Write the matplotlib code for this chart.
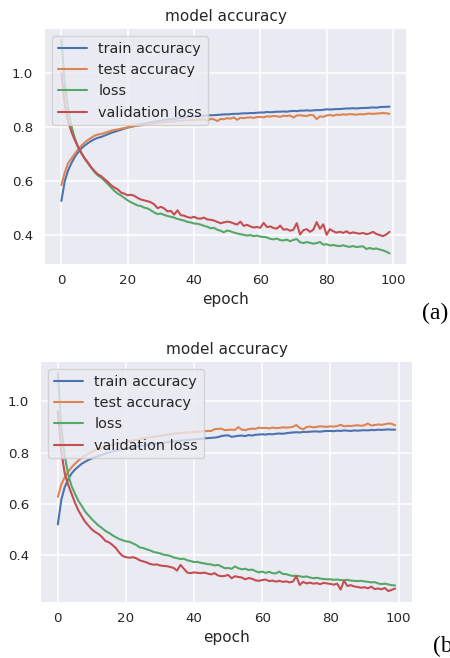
import matplotlib
matplotlib.use("Agg")
import matplotlib.pyplot as plt

# training history, run (a)
epochs = list(range(100))

train_acc_a = [
    .525, .598, .638, .665, .688, .705, .720, .731, .740, .748,
    .755, .760, .763, .768, .773, .778, .782, .786, .790, .794,
    .798, .801, .804, .807, .810, .813, .815, .818, .820, .822,
    .824, .826, .828, .829, .831, .832, .834, .835, .837, .838,
    .839, .840, .841, .842, .843, .844, .844, .845, .846, .847,
    .847, .848, .849, .849, .850, .851, .851, .852, .852, .853,
    .854, .854, .856, .855, .856, .857, .857, .858, .857, .859,
    .860, .859, .861, .861, .862, .861, .862, .863, .863, .864,
    .866, .865, .866, .867, .867, .868, .869, .869, .870, .869,
    .870, .871, .871, .872, .873, .872, .874, .875, .875, .876,
]
test_acc_a = [
    .584, .630, .665, .682, .700, .716, .730, .742, .752, .760,
    .768, .772, .774, .778, .782, .786, .789, .791, .794, .796,
    .799, .800, .803, .805, .806, .808, .810, .812, .813, .815,
    .816, .818, .819, .820, .821, .822, .823, .824, .825, .826,
    .826, .828, .827, .829, .824, .830, .829, .822, .830, .829,
    .833, .831, .836, .827, .834, .833, .835, .836, .834, .837,
    .838, .836, .840, .839, .841, .840, .838, .842, .841, .843,
    .835, .843, .844, .842, .841, .845, .844, .829, .840, .838,
    .843, .845, .842, .846, .845, .847, .846, .848, .847, .846,
    .848, .847, .849, .850, .849, .850, .851, .852, .851, .849,
]
loss_a = [
    1.125, .960, .870, .805, .760, .728, .705, .682, .665, .648,
    .632, .620, .612, .600, .588, .575, .562, .552, .545, .536,
    .527, .520, .514, .508, .506, .500, .497, .490, .482, .476,
    .478, .473, .469, .466, .463, .458, .455, .452, .447, .445,
    .441, .440, .437, .432, .429, .423, .425, .418, .414, .408,
    .415, .412, .407, .404, .401, .399, .396, .398, .394, .396,
    .392, .391, .389, .384, .382, .385, .379, .378, .381, .375,
    .380, .383, .371, .368, .372, .369, .366, .368, .372, .362,
    .364, .359, .361, .358, .357, .360, .356, .354, .357, .353,
    .355, .356, .346, .350, .346, .348, .344, .341, .336, .330,
]
val_loss_a = [
    1.000, .885, .822, .783, .752, .726, .703, .684, .668, .650,
    .636, .624, .617, .606, .596, .583, .575, .568, .556, .552,
    .546, .548, .544, .536, .530, .527, .524, .520, .512, .498,
    .503, .497, .486, .488, .474, .490, .472, .470, .465, .462,
    .466, .460, .459, .463, .456, .455, .452, .447, .442, .445,
    .448, .446, .441, .437, .448, .432, .436, .430, .426, .428,
    .425, .443, .428, .430, .424, .422, .433, .418, .420, .414,
    .418, .442, .400, .416, .420, .410, .418, .446, .421, .438,
    .399, .420, .412, .407, .410, .406, .412, .404, .408, .405,
    .403, .406, .401, .404, .410, .402, .398, .394, .400, .410,
]

# training history, run (b)
train_acc_b = [
    .520, .615, .665, .695, .718, .733, .745, .756, .764, .771,
    .777, .782, .787, .791, .796, .800, .804, .807, .810, .813,
    .815, .818, .820, .822, .825, .827, .829, .831, .833, .835,
    .837, .838, .840, .842, .843, .845, .846, .847, .849, .850,
    .851, .852, .853, .855, .856, .857, .858, .860, .864, .866,
    .867, .861, .863, .865, .866, .864, .868, .866, .869, .870,
    .871, .870, .872, .871, .873, .874, .873, .875, .877, .878,
    .879, .878, .880, .880, .881, .882, .882, .881, .883, .884,
    .884, .883, .885, .884, .886, .885, .884, .886, .885, .886,
    .887, .886, .888, .887, .889, .888, .889, .890, .889, .889,
]
test_acc_b = [
    .627, .675, .703, .724, .742, .756, .768, .779, .788, .797,
    .803, .809, .814, .818, .822, .826, .830, .833, .836, .839,
    .842, .844, .846, .849, .852, .855, .857, .859, .861, .863,
    .865, .867, .869, .871, .873, .875, .876, .877, .878, .879,
    .880, .881, .882, .883, .884, .884, .891, .892, .893, .887,
    .888, .889, .888, .899, .889, .887, .891, .893, .892, .897,
    .895, .896, .894, .897, .895, .896, .898, .897, .898, .900,
    .907, .896, .890, .899, .901, .898, .900, .902, .901, .900,
    .902, .901, .903, .908, .902, .904, .903, .905, .906, .904,
    .906, .913, .905, .907, .909, .908, .910, .913, .912, .906,
]
loss_b = [
    1.110, .900, .790, .715, .670, .640, .612, .592, .570, .555,
    .540, .527, .515, .505, .494, .487, .478, .470, .463, .458,
    .454, .452, .446, .440, .430, .428, .423, .419, .413, .410,
    .407, .402, .400, .397, .391, .388, .385, .386, .380, .377,
    .373, .374, .370, .368, .365, .364, .360, .362, .356, .349,
    .350, .347, .356, .349, .345, .347, .342, .344, .338, .333,
    .336, .331, .335, .330, .329, .336, .327, .326, .322, .319,
    .320, .318, .315, .317, .313, .310, .312, .309, .307, .306,
    .306, .304, .305, .303, .302, .304, .301, .300, .299, .300,
    .298, .296, .294, .295, .290, .287, .289, .286, .283, .282,
]
val_loss_b = [
    .961, .805, .720, .675, .640, .605, .575, .552, .530, .515,
    .500, .490, .482, .470, .455, .450, .440, .428, .410, .397,
    .392, .390, .392, .388, .380, .376, .372, .366, .363, .364,
    .360, .358, .357, .354, .350, .340, .362, .347, .332, .330,
    .333, .331, .330, .332, .328, .325, .330, .321, .318, .319,
    .323, .310, .318, .315, .313, .306, .311, .308, .302, .300,
    .303, .305, .299, .301, .297, .300, .296, .298, .294, .297,
    .318, .284, .296, .290, .293, .289, .291, .287, .292, .290,
    .288, .285, .289, .266, .300, .280, .283, .278, .276, .273,
    .275, .271, .277, .268, .270, .267, .272, .260, .265, .270,
]

labels = ["train accuracy", "test accuracy", "loss", "validation loss"]
colors = ["#4C72B0", "#DD8452", "#55A868", "#C44E52"]

ink = "#262626"
plt.rcParams.update({
    "font.family": "DejaVu Sans",
    "text.color": ink,
    "axes.labelcolor": ink,
    "xtick.color": ink,
    "ytick.color": ink,
    "axes.facecolor": "#EAEAF2",
    "axes.edgecolor": "white",
    "axes.linewidth": 0,
    "axes.grid": True,
    "axes.axisbelow": True,
    "grid.color": "white",
    "grid.linewidth": 1.1,
    "lines.solid_capstyle": "round",
})


def history_panel(ax, series):
    for vals, lab, col in zip(series, labels, colors):
        ax.plot(epochs, vals, color=col, lw=1.5, label=lab)
    ax.set_title("model accuracy", fontsize=11)
    ax.set_xlabel("epoch", fontsize=11, labelpad=3)
    ax.set_yticks([0.4, 0.6, 0.8, 1.0])
    ax.set_xticks([0, 20, 40, 60, 80, 100])
    ax.tick_params(axis="both", length=0, labelsize=9.6)
    ax.tick_params(axis="y", pad=8.5)
    ax.tick_params(axis="x", pad=7.5)
    for s in ax.spines.values():
        s.set_visible(False)
    ax.legend(loc="upper left", fontsize=10.4)


fig = plt.figure(figsize=(4.5, 6.58), dpi=100)

ax_a = fig.add_axes([0.1, 0.5988, 0.8022, 0.3571])
history_panel(ax_a, [train_acc_a, test_acc_a, loss_a, val_loss_a])

ax_b = fig.add_axes([0.0911, 0.0851, 0.8244, 0.3647])
history_panel(ax_b, [train_acc_b, test_acc_b, loss_b, val_loss_b])

fig.text(0.938, 0.524, "(a)", family="Liberation Serif", fontsize=17,
         color="black", ha="left", va="center")
fig.text(0.962, 0.017, "(b)", family="Liberation Serif", fontsize=17,
         color="black", ha="left", va="center")

fig.savefig("out.png", dpi=100)
